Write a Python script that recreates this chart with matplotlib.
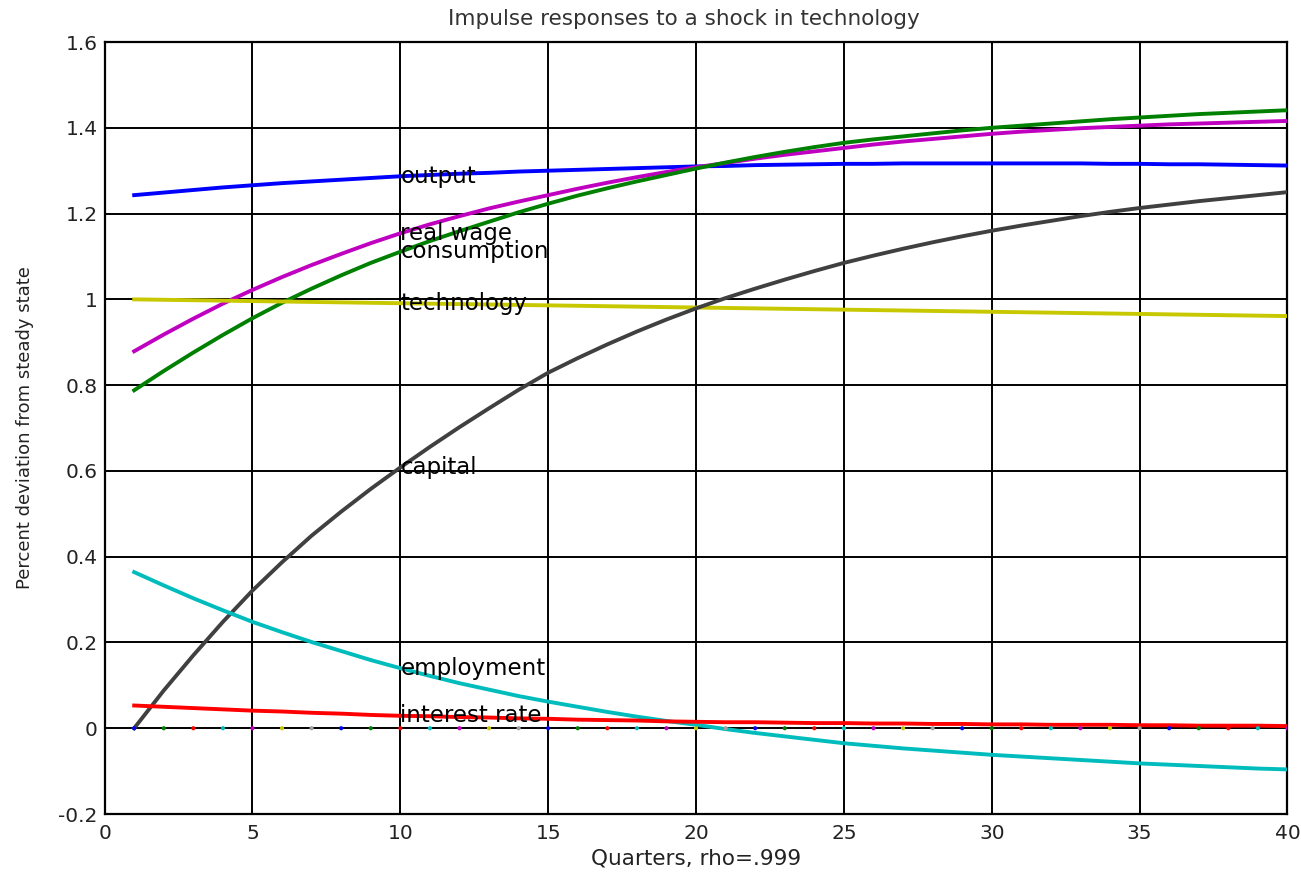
import matplotlib
matplotlib.use("Agg")
import matplotlib.pyplot as plt

quarters = list(range(1, 41))

output = [1.243, 1.249, 1.255, 1.261, 1.266, 1.271, 1.275, 1.279, 1.283, 1.287,
          1.290, 1.293, 1.295, 1.298, 1.300, 1.302, 1.304, 1.306, 1.308, 1.310,
          1.311, 1.313, 1.314, 1.315, 1.316, 1.316, 1.317, 1.317, 1.317, 1.317,
          1.317, 1.317, 1.317, 1.316, 1.316, 1.315, 1.315, 1.314, 1.313, 1.312]
real_wage = [0.879, 0.918, 0.955, 0.990, 1.022, 1.052, 1.080, 1.106, 1.131, 1.154,
             1.175, 1.194, 1.212, 1.228, 1.243, 1.258, 1.272, 1.285, 1.297, 1.308,
             1.318, 1.328, 1.337, 1.345, 1.353, 1.361, 1.368, 1.374, 1.380, 1.386,
             1.391, 1.395, 1.399, 1.402, 1.405, 1.408, 1.410, 1.412, 1.414, 1.416]
consumption = [0.788, 0.833, 0.876, 0.917, 0.956, 0.992, 1.025, 1.056, 1.085, 1.111,
               1.136, 1.159, 1.181, 1.203, 1.223, 1.242, 1.259, 1.275, 1.290, 1.305,
               1.319, 1.332, 1.344, 1.355, 1.365, 1.373, 1.380, 1.387, 1.394, 1.400,
               1.405, 1.410, 1.415, 1.420, 1.424, 1.428, 1.432, 1.435, 1.438, 1.441]
technology = [1.000, 0.999, 0.998, 0.997, 0.996, 0.995, 0.994, 0.993, 0.992, 0.991,
              0.990, 0.989, 0.988, 0.987, 0.986, 0.985, 0.984, 0.983, 0.982, 0.981,
              0.980, 0.979, 0.978, 0.977, 0.976, 0.975, 0.974, 0.973, 0.972, 0.971,
              0.970, 0.969, 0.968, 0.967, 0.966, 0.965, 0.964, 0.963, 0.962, 0.961]
capital = [0.000, 0.088, 0.170, 0.248, 0.321, 0.387, 0.449, 0.505, 0.558, 0.608,
           0.656, 0.702, 0.746, 0.789, 0.829, 0.863, 0.895, 0.925, 0.953, 0.979,
           1.003, 1.025, 1.046, 1.066, 1.085, 1.102, 1.118, 1.133, 1.147, 1.160,
           1.172, 1.183, 1.194, 1.204, 1.213, 1.221, 1.229, 1.236, 1.243, 1.250]
employment = [0.364, 0.333, 0.303, 0.275, 0.248, 0.224, 0.201, 0.180, 0.159, 0.140,
              0.122, 0.105, 0.090, 0.075, 0.062, 0.050, 0.038, 0.027, 0.017, 0.008,
              -0.002, -0.011, -0.019, -0.027, -0.035, -0.041, -0.047, -0.052, -0.057, -0.062,
              -0.066, -0.070, -0.074, -0.078, -0.082, -0.085, -0.088, -0.091, -0.094, -0.096]
interest_rate = [0.053, 0.050, 0.047, 0.044, 0.041, 0.039, 0.036, 0.034, 0.031, 0.029,
                 0.028, 0.026, 0.025, 0.023, 0.022, 0.020, 0.019, 0.018, 0.016, 0.015,
                 0.014, 0.014, 0.013, 0.012, 0.012, 0.011, 0.011, 0.010, 0.010, 0.009,
                 0.009, 0.008, 0.008, 0.008, 0.007, 0.007, 0.006, 0.006, 0.006, 0.005]

series = [
    ("output", output, "#0000ff"),
    ("real wage", real_wage, "#c000c0"),
    ("consumption", consumption, "#008000"),
    ("technology", technology, "#c8c800"),
    ("capital", capital, "#404040"),
    ("employment", employment, "#00bcbc"),
    ("interest rate", interest_rate, "#ff0000"),
]

# zero line drawn as coloured dots, one per quarter
zero_colors = ["#0000ff", "#008000", "#ff0000", "#00bcbc", "#c000c0", "#c8c800", "#a0a0a0"]
label_at = 10

fig = plt.figure(figsize=(13.01, 8.72), dpi=100)
ax = fig.add_axes([0.0804, 0.0665, 0.9092, 0.8853])

for name, vals, col in series:
    ax.plot(quarters, vals, color=col, linewidth=2.8, zorder=3)

dot_colors = [zero_colors[(q - 1) % len(zero_colors)] for q in quarters]
ax.scatter(quarters, [0] * len(quarters), c=dot_colors, s=9, zorder=4, linewidths=0)

for name, vals, col in series:
    ax.text(label_at, vals[label_at - 1], name, ha="left", va="center",
            fontsize=16.5, family="DejaVu Sans", color="black", zorder=5)

ax.set_xlim(0, 40)
ax.set_ylim(-0.2, 1.6)
ax.set_xticks(range(0, 41, 5))
ax.set_yticks([-0.2, 0, 0.2, 0.4, 0.6, 0.8, 1.0, 1.2, 1.4, 1.6])
ax.set_yticklabels(["-0.2", "0", "0.2", "0.4", "0.6", "0.8", "1", "1.2", "1.4", "1.6"])
ax.grid(True, color="black", linewidth=1.4)
ax.tick_params(length=0, labelsize=14.5, labelcolor="#222222")
ax.tick_params(axis="x", pad=7)
ax.tick_params(axis="y", pad=5)
for sp in ax.spines.values():
    sp.set_linewidth(1.6)

ax.set_title("Impulse responses to a shock in technology", fontsize=15.5,
             family="DejaVu Sans", color="#333333", pad=12, x=0.49)
ax.set_xlabel("Quarters, rho=.999", fontsize=15.5, family="DejaVu Sans", color="#222222")
ax.set_ylabel("Percent deviation from steady state", fontsize=13,
              family="DejaVu Sans", color="#222222")
ax.xaxis.set_label_coords(0.5, -0.057)
ax.xaxis.label.set_va("center")
ax.yaxis.set_label_coords(-0.067, 0.5)
ax.yaxis.label.set_va("center")

fig.savefig("out.png", dpi=100)
